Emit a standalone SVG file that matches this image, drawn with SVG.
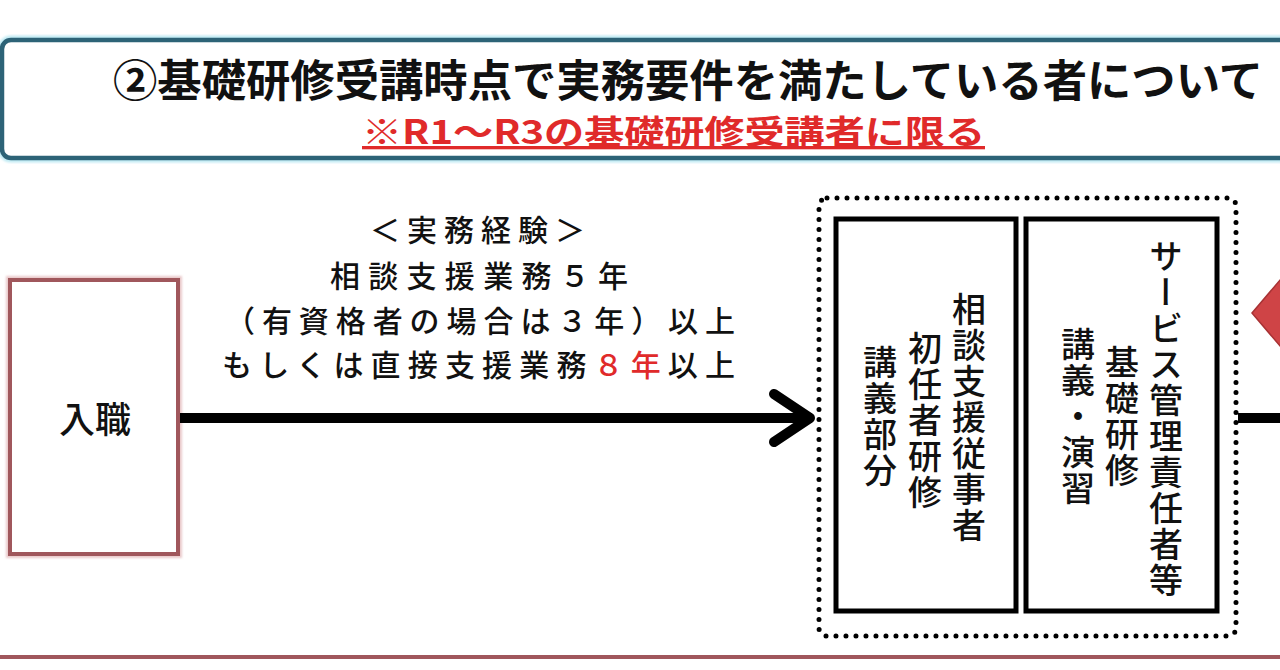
<svg xmlns="http://www.w3.org/2000/svg" width="1280" height="670" viewBox="0 0 1280 670">
<defs>
<style>
.jp{font-family:"Noto Sans CJK JP","Noto Sans CJK SC",sans-serif;fill:#111;font-weight:500}
.vt{writing-mode:vertical-rl;text-orientation:upright;font-size:34px;letter-spacing:2px}
.inner{fill:#fff;stroke:#000;stroke-width:5}
</style>
<marker id="chev" markerUnits="userSpaceOnUse" markerWidth="60" markerHeight="70" refX="46" refY="30" orient="auto" viewBox="0 0 60 60">
<polyline points="8,6 44,30 8,54" fill="none" stroke="#000" stroke-width="10" stroke-linecap="round" stroke-linejoin="round"/>
</marker>
<filter id="sh" x="-5%" y="-5%" width="110%" height="110%"><feGaussianBlur stdDeviation="1.2"/></filter>
</defs>
<rect width="1280" height="670" fill="#fff"/>

<g id="header">
<rect x="2" y="40" width="1320" height="118" rx="9" fill="none" stroke="#bfeaf3" stroke-width="9" filter="url(#sh)"/>
<rect x="2" y="40" width="1320" height="118" rx="9" fill="#fff" stroke="#2d6377" stroke-width="4.5"/>
<text class="jp" x="113" y="97" font-size="44" style="font-weight:bold" textLength="1150" lengthAdjust="spacingAndGlyphs">②基礎研修受講時点で実務要件を満たしている者について</text>
<text class="jp" x="362" y="144" font-size="33" style="fill:#e02a2a;font-weight:bold" text-decoration="underline" textLength="623" lengthAdjust="spacingAndGlyphs">※R1～R3の基礎研修受講者に限る</text>
</g>

<g id="start">
<rect x="10" y="280" width="168" height="274" fill="none" stroke="#e9c9cb" stroke-width="8" filter="url(#sh)"/>
<rect x="10" y="280" width="168" height="274" fill="#fff" stroke="#a0575c" stroke-width="4"/>
<text class="jp" x="95" y="433" font-size="36" text-anchor="middle">入職</text>
</g>

<g id="experience-label">
<text class="jp" x="370" y="241" font-size="30" textLength="215">＜実務経験＞</text>
<text class="jp" x="330" y="287" font-size="30" textLength="298">相談支援業務５年</text>
<text class="jp" x="225" y="332" font-size="30" textLength="510">（有資格者の場合は３年）以上</text>
<text class="jp" x="222" y="376" font-size="30" textLength="513">もしくは直接支援業務<tspan style="fill:#e02a2a">８年</tspan>以上</text>
</g>

<g id="training-group">
<rect x="819" y="198" width="417" height="438" rx="8" fill="none" stroke="#000" stroke-width="5" stroke-dasharray="0 10" stroke-linecap="round"/>
</g>

<g id="node-shodan">
<rect class="inner" x="836" y="219" width="180" height="392"/>
<text class="jp vt" x="969" y="418" text-anchor="middle">相談支援従事者</text>
<text class="jp vt" x="925" y="421" text-anchor="middle">初任者研修</text>
<text class="jp vt" x="880" y="417" text-anchor="middle">講義部分</text>
</g>

<g id="node-sabikan">
<rect class="inner" x="1026" y="219" width="191" height="392"/>
<text class="jp vt" x="1166" y="419" text-anchor="middle">サービス管理責任者等</text>
<text class="jp vt" x="1122" y="417" text-anchor="middle">基礎研修</text>
<text class="jp vt" x="1078" y="417" text-anchor="middle">講義・演習</text>
</g>

<g id="next-marker">
<polygon points="1252,313 1292,266 1332,313 1292,360" fill="#cf4446" stroke="#a83234" stroke-width="1.5"/>
</g>

<g id="connectors">
<line x1="180" y1="418" x2="812" y2="418" stroke="#000" stroke-width="10" marker-end="url(#chev)"/>
<line x1="1238" y1="418" x2="1282" y2="418" stroke="#000" stroke-width="10"/>
</g>

<g id="footer-line">
<line x1="0" y1="658" x2="1280" y2="658" stroke="#e6c4c6" stroke-width="9" filter="url(#sh)"/>
<line x1="0" y1="657" x2="1280" y2="657" stroke="#a0575c" stroke-width="4"/>
</g>
</svg>
